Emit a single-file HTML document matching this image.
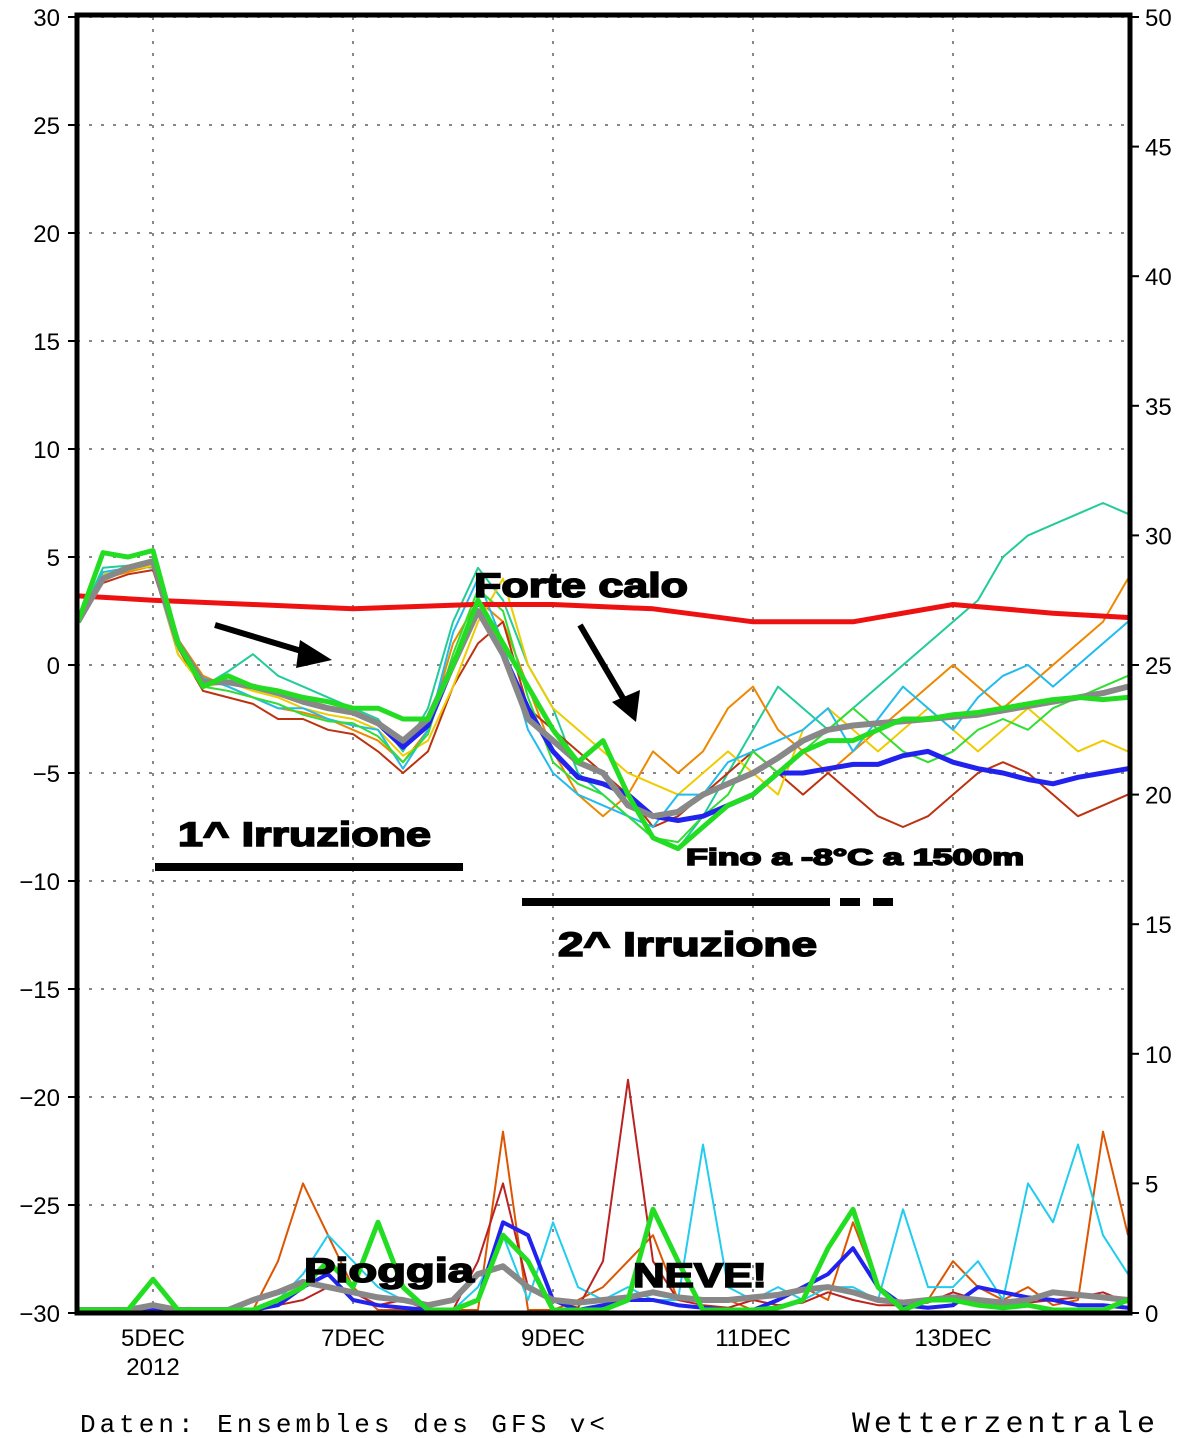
<!DOCTYPE html>
<html><head><meta charset="utf-8"><style>
html,body{margin:0;padding:0;background:#fff;}
svg{display:block;}
text{font-family:"Liberation Sans",sans-serif;}
.heavy{font-weight:bold;stroke:#000;stroke-width:1.6;}
.mono{font-family:"Liberation Mono",monospace;}
</style></head><body>
<svg id="chart" width="1200" height="1438" viewBox="0 0 1200 1438" xmlns="http://www.w3.org/2000/svg">
<g id="grid"></g>
<g id="series"></g>
<g id="axes"></g>
<g id="annot">
  <line x1="215" y1="625" x2="318" y2="656" stroke="#000" stroke-width="6"/>
  <polygon points="332,660 300,640 296,668" fill="#000"/>
  <line x1="580" y1="625" x2="627" y2="705" stroke="#000" stroke-width="6"/>
  <polygon points="636,722 612,702 640,690" fill="#000"/>
  <text class="heavy" x="474" y="597" font-size="34" textLength="214" lengthAdjust="spacingAndGlyphs">Forte calo</text>
  <text class="heavy" x="178" y="846" font-size="34" textLength="253" lengthAdjust="spacingAndGlyphs">1^ Irruzione</text>
  <line x1="155" y1="867" x2="463" y2="867" stroke="#000" stroke-width="8"/>
  <line x1="522" y1="902" x2="830" y2="902" stroke="#000" stroke-width="8"/>
  <line x1="840" y1="902" x2="860" y2="902" stroke="#000" stroke-width="8"/>
  <line x1="873" y1="902" x2="893" y2="902" stroke="#000" stroke-width="8"/>
  <text class="heavy" x="558" y="956" font-size="34" textLength="259" lengthAdjust="spacingAndGlyphs">2^ Irruzione</text>
  <text class="heavy" x="686" y="865" font-size="23" textLength="338" lengthAdjust="spacingAndGlyphs">Fino a -8°C a 1500m</text>
  <text class="heavy" x="304" y="1282" font-size="34" textLength="170" lengthAdjust="spacingAndGlyphs">Pioggia</text>
  <text class="heavy" x="633" y="1287" font-size="34" textLength="134" lengthAdjust="spacingAndGlyphs">NEVE!</text>
  <text class="mono" x="80" y="1432" font-size="26" textLength="525" lengthAdjust="spacing">Daten: Ensembles des GFS v&lt;</text>
  <text class="mono" x="852" y="1432" font-size="30" textLength="303" lengthAdjust="spacing">Wetterzentrale</text>
</g>
</svg>
<script>
const times=[];for(let t=4.25;t<=14.76;t+=0.25)times.push(+t.toFixed(2));
const dayTicks=[5,7,9,11,13];
const dayLabels=["5DEC","7DEC","9DEC","11DEC","13DEC"];
const leftTicks=[30,25,20,15,10,5,0,-5,-10,-15,-20,-25,-30];
const rightTicks=[50,45,40,35,30,25,20,15,10,5,0];
const redTimes=[4.25,5,6,7,8.2,9,10,11,12,13,14,14.75];
const redValues=[3.2,3.0,2.8,2.6,2.8,2.8,2.6,2.0,2.0,2.8,2.4,2.2];
const meanT=[2,4,4.5,4.8,1,-0.8,-0.8,-1,-1.3,-1.7,-2,-2.2,-2.7,-3.5,-2.5,0,2.5,0.5,-2.5,-3.5,-4.5,-5,-6.5,-7,-6.8,-6,-5.5,-5,-4.3,-3.5,-3,-2.8,-2.7,-2.6,-2.5,-2.4,-2.3,-2.1,-1.9,-1.7,-1.5,-1.3,-1];
const controlT=[2,5.2,5,5.3,1,-1,-0.5,-1,-1.2,-1.5,-1.7,-2,-2,-2.5,-2.5,0,3,1,-1,-3,-4.5,-3.5,-6,-8,-8.5,-7.5,-6.5,-6,-5,-4,-3.5,-3.5,-3,-2.5,-2.5,-2.3,-2.2,-2,-1.8,-1.6,-1.5,-1.6,-1.5];
const operT=[2,4,4.5,4.8,1,-0.8,-0.8,-1,-1.3,-1.7,-2,-2.2,-2.7,-3.8,-2.8,0,2.5,0.5,-2,-4,-5.2,-5.5,-6,-7,-7.2,-7,-6.5,-6,-5,-5,-4.8,-4.6,-4.6,-4.2,-4,-4.5,-4.8,-5,-5.3,-5.5,-5.2,-5,-4.8];
const m1T=[2,4.5,4.6,4.5,0.5,-1,-0.3,0.5,-0.5,-1,-1.5,-2,-2.5,-4,-2,2,4.5,3,0,-2,-5,-6,-7,-8,-8.5,-7,-5,-3,-1,-2,-3,-2,-1,0,1,2,3,5,6,6.5,7,7.5,7];
const m2T=[2,4,4.3,4.6,1.2,-0.5,-1,-1.5,-2,-2.2,-2.5,-3,-3.5,-4.5,-3,1,3,2,-1,-4,-6,-7,-6,-4,-5,-4,-2,-1,-3,-4,-5,-4,-3,-2,-1,0,-1,-2,-1,0,1,2,4];
const m3T=[2,3.8,4.2,4.4,0.8,-1.2,-1.5,-1.8,-2.5,-2.5,-3,-3.2,-4,-5,-4,-1,1,2,-2,-3,-4,-5,-6,-7.5,-7,-6,-5,-4,-5,-6,-5,-6,-7,-7.5,-7,-6,-5,-4.5,-5,-6,-7,-6.5,-6];
const m4T=[2,4.2,4.4,4.6,0.5,-1,-0.8,-1.2,-1.5,-2,-2.3,-2.5,-3,-4.2,-3.5,-1,2,4,0,-2,-3,-4,-5,-5.5,-6,-5,-4,-5,-6,-3,-2,-3,-4,-3,-2,-3,-4,-3,-2,-3,-4,-3.5,-4];
const m5T=[2,4.3,4.5,4.7,0.8,-0.6,-1,-1.5,-2,-2,-2.5,-2.8,-3,-4.8,-3,1.5,4,1,-3,-5,-6,-6.5,-7,-7.5,-6,-6,-4.5,-4,-3.5,-3,-2,-4,-2.5,-1,-2,-3,-1.5,-0.5,0,-1,0,1,2];
const m6T=[2,4.1,4.6,4.9,1,-1,-1.2,-1.5,-1.8,-2.3,-2.6,-2.7,-3.3,-4.5,-3.2,0.5,3.5,2.5,-1.5,-4.5,-5.5,-6,-7,-8,-8.2,-7,-6,-4,-5,-4,-3,-2,-3,-4,-4.5,-4,-3,-2.5,-3,-2,-1.5,-1,-0.5];
const meanP=[0,0,0,0.3,0,0,0,0.5,0.8,1.2,1,0.8,0.6,0.5,0.3,0.5,1.5,1.8,1,0.5,0.4,0.5,0.6,0.8,0.6,0.5,0.5,0.6,0.7,0.9,1,0.8,0.5,0.4,0.5,0.6,0.5,0.4,0.5,0.8,0.7,0.6,0.5];
const controlP=[0,0,0,1.3,0,0,0,0,0.5,1,2,1,3.5,1,0,0,0.5,3,2,0,0,0,0.5,4,2,0,0,0,0.2,0.5,2.5,4,1,0,0.5,0.5,0.3,0.2,0.3,0.1,0,0,0.5];
const operP=[0,0,0,0,0,0,0,0,0.3,1,1.5,0.5,0.3,0.2,0,0,0.5,3.5,3,0.5,0,0.3,0.5,0.5,0.3,0.2,0,0,0.5,1,1.5,2.5,1,0.3,0.2,0.3,1,0.8,0.6,0.5,0.3,0.3,0.2];
const m1P=[0,0,0,0,0,0,0,0,2,5,3,1,0,0,0,0,0,7,0,0,0.5,1,2,3,0.5,0.5,0.5,0,0.5,1,0.5,3.5,1,0,0.5,2,1,0.5,1,0.3,0.5,7,3];
const m2P=[0,0,0,0,0,0,0,0,0.5,1.5,3,2,1,0.5,0,0,1,3,0.5,3.5,1,0.5,1,0.5,0.5,6.5,1,0.5,1,0.5,1,1,0.5,4,1,1,2,0.5,5,3.5,6.5,3,1.5];
const m3P=[0,0,0,0,0,0,0,0,0.3,0.5,1,0.8,0.3,0.5,0,0,2,5,1,0.5,0.2,2,9,2,0.5,0.3,0.2,0.5,0.3,0.4,0.8,0.5,0.3,0.3,0.4,0.8,0.5,0.3,0.4,0.5,0.6,0.8,0.4];
const x=t=>77+(t-4.24)*100;
const yL=v=>665-v*21.6;
const yR=v=>1313-v*25.92;
const NS='http://www.w3.org/2000/svg';
function mk(tag,attrs,parent){const e=document.createElementNS(NS,tag);for(const k in attrs)e.setAttribute(k,attrs[k]);document.getElementById(parent).appendChild(e);return e;}
dayTicks.forEach(d=>{
 const g=mk('line',{x1:x(d),x2:x(d),y1:17,y2:1313,stroke:'#888','stroke-width':2,'stroke-dasharray':'3 9'},'grid');
 
 
});
leftTicks.forEach(v=>{
 const g=mk('line',{x1:77,x2:1130,y1:yL(v),y2:yL(v),stroke:'#888','stroke-width':2,'stroke-dasharray':'3 9'},'grid');
 
 
});
function line(ts,vals,yf,color,w,name){
 const pts=vals.map((v,i)=>x(ts[i]).toFixed(1)+','+yf(v).toFixed(1)).join(' ');
 const p=mk('polyline',{points:pts,fill:'none',stroke:color,'stroke-width':w,'stroke-linejoin':'round'},'series');
 
 
}
const yP=v=>Math.min(yR(v),1310);
line(times,m1P,yP,'#dd5500',2,'precip-member-1');
line(times,m2P,yP,'#22ccee',2,'precip-member-2');
line(times,m3P,yP,'#bb2222',2,'precip-member-3');
line(times,m1T,yL,'#22cc99',2,'temp-member-1');
line(times,m2T,yL,'#ee8800',2,'temp-member-2');
line(times,m3T,yL,'#bb3311',2,'temp-member-3');
line(times,m4T,yL,'#eecc00',2,'temp-member-4');
line(times,m5T,yL,'#22bbee',2,'temp-member-5');
line(times,m6T,yL,'#33dd33',2,'temp-member-6');
line(redTimes,redValues,yL,'#ee1111',5,'climate-mean-line');
line(times,operT,yL,'#2222ee',5,'operational-temp');
line(times,meanT,yL,'#888888',6,'ensemble-mean-temp');
line(times,controlT,yL,'#22dd22',5,'control-temp');
line(times,operP,yP,'#2222ee',4,'operational-precip');
line(times,meanP,yP,'#888888',6,'ensemble-mean-precip');
line(times,controlP,yP,'#22dd22',5,'control-precip');
const fr=mk('path',{d:'M77,1313 L77,15 L1130,15 L1130,1313 Z',fill:'none',stroke:'#000','stroke-width':5},'axes');


leftTicks.forEach(v=>{
 const t=mk('text',{x:60,y:yL(v)+9,'text-anchor':'end','font-size':24},'axes');
 t.textContent=(v<0?'\u2212':'')+Math.abs(v);
 
 
 const l=mk('line',{x1:68,x2:77,y1:yL(v),y2:yL(v),stroke:'#000','stroke-width':2},'axes');
 
 
});
rightTicks.forEach(v=>{
 const t=mk('text',{x:1145,y:yR(v)+9,'font-size':24},'axes');
 t.textContent=v;
 
 
 const l=mk('line',{x1:1130,x2:1139,y1:yR(v),y2:yR(v),stroke:'#000','stroke-width':2},'axes');
 
 
});
dayTicks.forEach((d,i)=>{
 const t=mk('text',{x:x(d),y:1346,'text-anchor':'middle','font-size':24},'axes');
 t.textContent=dayLabels[i];
 
 
});
const yr=mk('text',{x:x(5),y:1375,'text-anchor':'middle','font-size':24},'axes');
yr.textContent='2012';


</script>
</body></html>
